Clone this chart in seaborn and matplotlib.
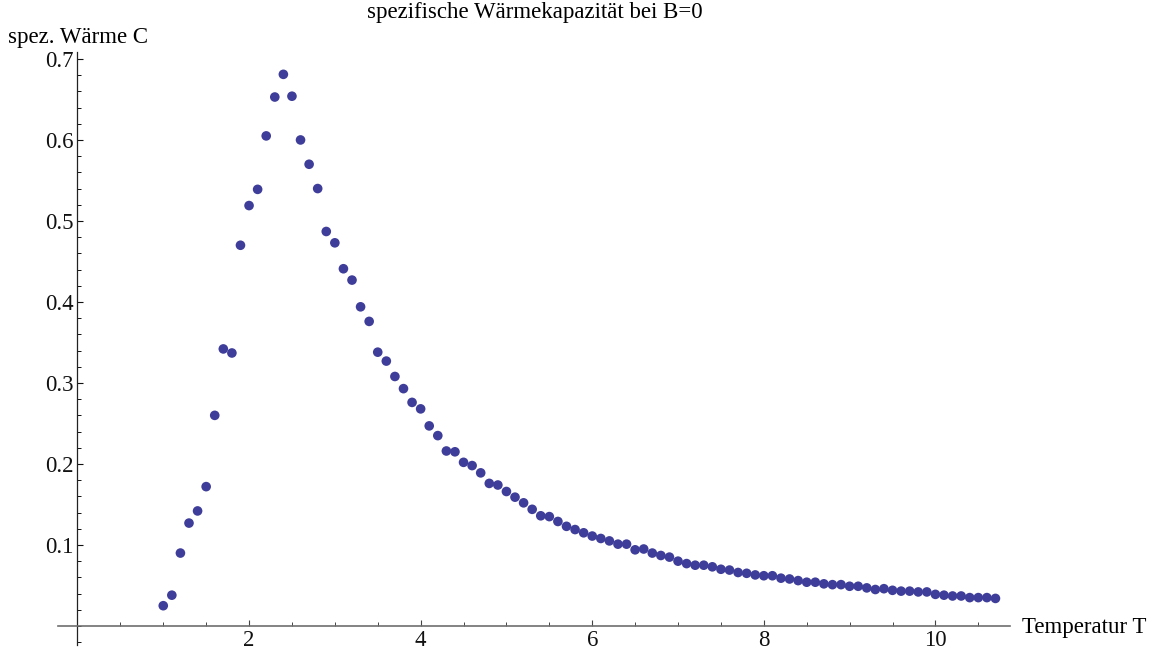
import pandas as pd
import matplotlib
matplotlib.use('Agg')
import matplotlib.pyplot as plt
import seaborn as sns
from matplotlib.ticker import MultipleLocator, FixedLocator

sns.set_style("white")
# Times-like font after set_style
plt.rcParams['font.family'] = ['Liberation Serif', 'DejaVu Serif']

# Temperatur T
temperatur = [1.0, 1.1, 1.2, 1.3, 1.4, 1.5, 1.6, 1.7, 1.8, 1.9,
              2.0, 2.1, 2.2, 2.3, 2.4, 2.5, 2.6, 2.7, 2.8, 2.9,
              3.0, 3.1, 3.2, 3.3, 3.4, 3.5, 3.6, 3.7, 3.8, 3.9,
              4.0, 4.1, 4.2, 4.3, 4.4, 4.5, 4.6, 4.7, 4.8, 4.9,
              5.0, 5.1, 5.2, 5.3, 5.4, 5.5, 5.6, 5.7, 5.8, 5.9,
              6.0, 6.1, 6.2, 6.3, 6.4, 6.5, 6.6, 6.7, 6.8, 6.9,
              7.0, 7.1, 7.2, 7.3, 7.4, 7.5, 7.6, 7.7, 7.8, 7.9,
              8.0, 8.1, 8.2, 8.3, 8.4, 8.5, 8.6, 8.7, 8.8, 8.9,
              9.0, 9.1, 9.2, 9.3, 9.4, 9.5, 9.6, 9.7, 9.8, 9.9,
              10.0, 10.1, 10.2, 10.3, 10.4, 10.5, 10.6, 10.7]

# spezifische Waerme C
waerme = [0.025, 0.038, 0.090, 0.127, 0.142, 0.172, 0.260, 0.342, 0.337, 0.470,
          0.519, 0.539, 0.605, 0.653, 0.681, 0.654, 0.600, 0.570, 0.540, 0.487,
          0.473, 0.441, 0.427, 0.394, 0.376, 0.338, 0.327, 0.308, 0.293, 0.276,
          0.268, 0.247, 0.235, 0.216, 0.215, 0.202, 0.198, 0.189, 0.176, 0.174,
          0.166, 0.159, 0.152, 0.144, 0.136, 0.135, 0.129, 0.123, 0.119, 0.115,
          0.111, 0.108, 0.105, 0.101, 0.101, 0.094, 0.095, 0.090, 0.087, 0.085,
          0.080, 0.077, 0.075, 0.075, 0.073, 0.070, 0.069, 0.066, 0.065, 0.063,
          0.062, 0.062, 0.059, 0.058, 0.056, 0.054, 0.054, 0.052, 0.051, 0.051,
          0.049, 0.049, 0.047, 0.045, 0.046, 0.044, 0.043, 0.043, 0.042, 0.042,
          0.039, 0.038, 0.037, 0.037, 0.035, 0.035, 0.035, 0.034]

x_ticks = [2, 4, 6, 8, 10]
y_ticks = [0.1, 0.2, 0.3, 0.4, 0.5, 0.6, 0.7]

df = pd.DataFrame({'T': temperatur, 'C': waerme})

fig = plt.figure(figsize=(11.5, 6.49), dpi=100)
ax = fig.add_axes([0.0502, 0.0068, 0.8281, 0.9136])

sns.scatterplot(data=df, x='T', y='C', ax=ax, color='#3e3d99',
                s=48, linewidth=0, edgecolor='none')

ax.set_xlim(-0.23, 10.87)
ax.set_ylim(-0.023, 0.709)

# Achsen durch den Ursprung
ax.spines['left'].set_position(('data', 0))
ax.spines['bottom'].set_position(('data', 0))
ax.spines['right'].set_visible(False)
ax.spines['top'].set_visible(False)
ax.spines['left'].set_color('#222222')
ax.spines['bottom'].set_color('#6e6e6e')
ax.spines['left'].set_linewidth(0.9)
ax.spines['bottom'].set_linewidth(1.2)

ax.xaxis.set_major_locator(FixedLocator(x_ticks))
ax.xaxis.set_minor_locator(MultipleLocator(0.5))
ax.yaxis.set_major_locator(FixedLocator(y_ticks))
ax.yaxis.set_minor_locator(MultipleLocator(0.02))
ax.set_xticklabels([str(t) for t in x_ticks])
ax.set_yticklabels([str(t) for t in y_ticks])

ax.tick_params(which='both', bottom=True, left=True, direction='in',
               labelsize=16.5, colors='#111111')
ax.tick_params(which='major', length=4.5, width=0.8, pad=3)
ax.tick_params(which='minor', length=2.8, width=0.7)
ax.tick_params(axis='x', which='both', color='#444444')

ax.set_xlabel('')
ax.set_ylabel('')

fig.text(0.465, 0.980, 'spezifische Wärmekapazität bei B=0', ha='center', va='center',
         fontsize=16.5, color='black')
fig.text(0.007, 1 - 37 / 649, 'spez. Wärme C', ha='left', va='center', fontsize=16.5, color='black')
fig.text(1022 / 1150, 1 - 628 / 649, 'Temperatur T', ha='left', va='center', fontsize=16.5, color='black')

plt.savefig('out.png', dpi=100)
